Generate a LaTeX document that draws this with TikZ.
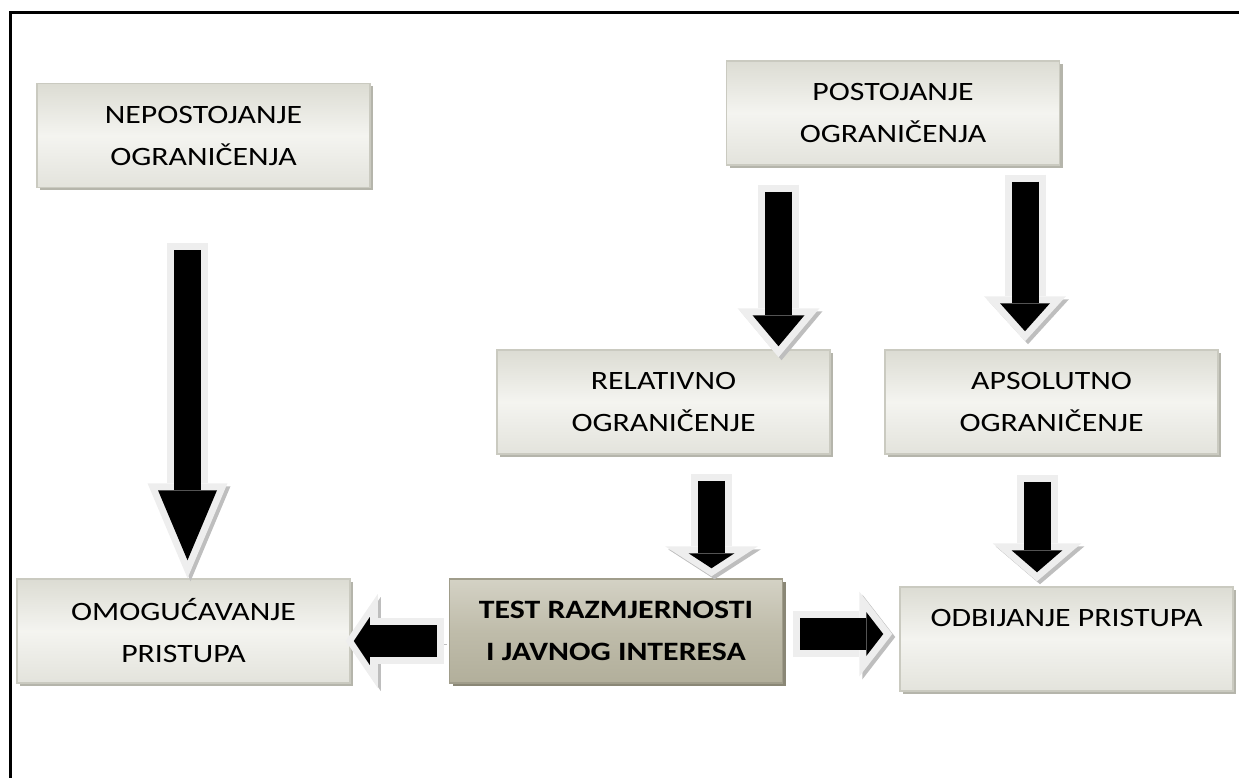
\documentclass[tikz,border=0pt]{standalone}
\usepackage{fontspec}
\setmainfont{Carlito}[FakeStretch=1.2]
\usetikzlibrary{arrows.meta,shadows,calc}

\definecolor{boxtop}{HTML}{DCDCD3}
\definecolor{boxmid}{HTML}{F4F4F0}
\definecolor{boxbot}{HTML}{E3E3DC}
\definecolor{boxrim}{HTML}{CACAC0}
\definecolor{boxshade}{HTML}{B5B5AB}
\definecolor{testtop}{HTML}{D4D2C5}
\definecolor{testmid}{HTML}{BFBCAA}
\definecolor{testbot}{HTML}{B2AF9B}
\definecolor{testrim}{HTML}{A09D8B}
\definecolor{testshade}{HTML}{8A8776}
\definecolor{arrowrim}{HTML}{EEEEEE}
\definecolor{arrowshade}{HTML}{BEBEBE}

\begin{document}
\begin{tikzpicture}[x=1pt, y=-1pt,
    box/.style={rectangle, draw=boxrim, line width=1.5pt, inner sep=0pt,
        minimum width=333pt, minimum height=104pt, align=center,
        font=\fontsize{26.5}{42}\selectfont,
        top color=boxtop, bottom color=boxbot, middle color=boxmid,
        drop shadow={shadow xshift=3pt, shadow yshift=-3pt, fill=boxshade, opacity=1}},
    testbox/.style={box, draw=testrim,
        top color=testtop, bottom color=testbot, middle color=testmid,
        font=\fontsize{26.5}{42}\selectfont\bfseries,
        drop shadow={shadow xshift=3pt, shadow yshift=-3pt, fill=testshade, opacity=1}},
    % #1 shaft, #2/#3 head length/width, #4/#5 black head, #6 tip inset
    bigarrow/.style n args={6}{draw=arrowrim, line width=#1pt,
        -{Triangle[length=#2pt, width=#3pt, line width=0pt]},
        preaction={draw=arrowshade, transform canvas={shift={(3pt,-3pt)}}},
        postaction={draw=black, line width=#1pt-14pt, shorten <=7pt, shorten >=#6pt,
            -{Triangle[length=#4pt, width=#5pt, line width=0pt]}}}]

    \clip (0,0) rectangle (1239,778);
    \draw [line width=3pt] (10,800) -- (10,13) -- (1260,13);

    % Nodes
    \node [box]     (nepost) at (203.5,135.5) {NEPOSTOJANJE\\OGRANIČENJA};
    \node [box]     (post)   at (893,113)     {POSTOJANJE\\OGRANIČENJA};
    \node [box]     (relat)  at (663.5,402)   {RELATIVNO\\OGRANIČENJE};
    \node [box]     (apsol)  at (1051.5,402)  {APSOLUTNO\\OGRANIČENJE};
    \node [box]     (omog)   at (183.5,631)   {OMOGUĆAVANJE\\PRISTUPA};
    \node [testbox] (test)   at (616,631)     {TEST RAZMJERNOSTI\\I JAVNOG INTERESA};
    \node [box]     (odbij)  at (1066.5,639)  {ODBIJANJE PRISTUPA\\\mbox{}};

    % Arrows
    \draw [bigarrow={41}{95}{80}{70}{59}{18}] ($(nepost.south)+(-16,55)$) coordinate (t1) -- (t1 |- omog.north);
    \draw [bigarrow={41}{49}{82}{31}{52}{11}] ($(post.south)+(-114.5,19)$) coordinate (t2) -- ($(t2 |- relat.north)+(0,8)$);
    \draw [bigarrow={41}{45}{82}{28}{50}{10}] ($(post.south)+(132,9)$) coordinate (t3) -- ($(t3 |- apsol.north)+(0,-8)$);
    \draw [bigarrow={41}{30}{93}{15}{46}{8}]  ($(relat.south)+(48,19)$) coordinate (t4) -- ($(t4 |- test.north)+(0,-2)$);
    \draw [bigarrow={41}{38}{89}{22}{51}{9}]  ($(apsol.south)+(-14.5,20)$) coordinate (t5) -- ($(t5 |- odbij.north)+(0,-5)$);
    \draw [bigarrow={46}{32}{94}{16}{48}{8}]  ($(test.west)+(-5,10)$) coordinate (t6) -- ($(t6 -| omog.east)+(-5,0)$);
    \draw [bigarrow={46}{33}{85}{17}{44}{9}]  ($(test.east)+(10,3)$) coordinate (t7) -- ($(t7 -| odbij.west)+(-7,0)$);

\end{tikzpicture}
\end{document}
